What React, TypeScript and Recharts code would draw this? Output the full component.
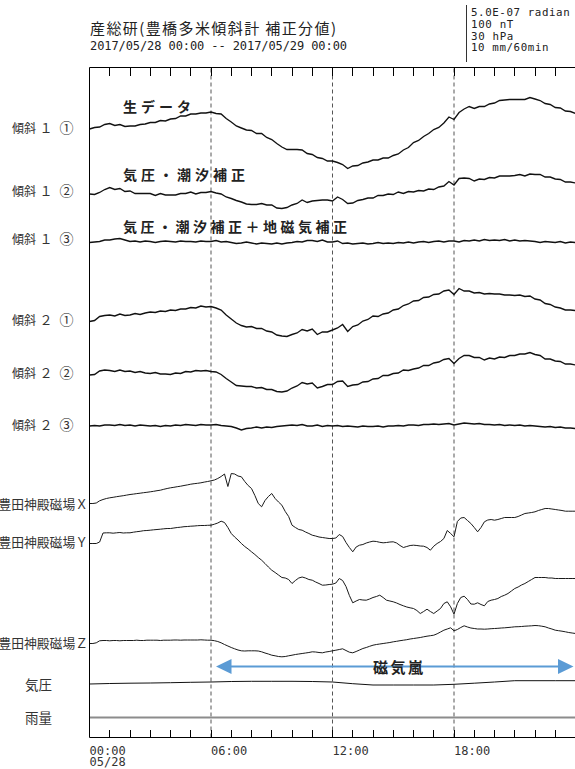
import { LineChart, Line, XAxis, YAxis, ReferenceLine } from "recharts";

// 時刻（時）: 15分値・10分値・毎時値
const quarterHours = Array.from({ length: 97 }, (_, i) => i / 4);
const tenMinHours = Array.from({ length: 145 }, (_, i) => i / 6);
const hourly = Array.from({ length: 25 }, (_, i) => i);

// 傾斜計 (15分値, 表示単位)
const tilt1Raw = [
  0, 1.5, 2, 4.5, 5.5, 3.5, 4.5, 2.5, 3, 3, 4.5, 5, 6.5, 6.5, 8.5, 8,
  10, 10.5, 13, 13, 15, 15, 16, 16, 17, 15.5, 15, 10.5, 7, 3, 1, -1,
  -1.5, -4.5, -4.5, -8.5, -10.5, -14.5, -18, -20.5, -20.5, -20.5, -21, -24.5,
  -25.5, -28.5, -29.5, -32, -32, -33.5, -35.5, -39.5, -37, -36.5, -34, -33,
  -31, -31, -29, -29, -26.5, -25, -21, -18.5, -13.5, -11.5, -7.5, -4.5,
  -0.5, 1.5, 6, 12, 9.5, 16.5, 20, 22.5, 20.5, 22.5, 22.5, 25,
  26, 28.5, 29, 29.5, 29.5, 29.5, 29.5, 31.5, 30, 28.5, 25.5, 24.5,
  21.5, 21, 18, 17.5, 15.5,
];
const tilt1Corr = [
  0, -0.5, 1.5, 4.5, 6.5, 4.5, 5.5, 2.5, 3, 0.5, 0.5, 0.5, 0.5, -1.5, 0.5, -1,
  -1, -1, 0.5, 0.5, 2, 0, 1.5, 1.5, 2.5, 1, 0, -3, -4.5, -6.5, -8, -10,
  -10.5, -10.5, -9.5, -11, -11, -14, -14.5, -13.5, -11, -9.5, -6, -8.5,
  -7, -6.5, -6, -6, -7, -3, -5.5, -9.5, -9, -6.5, -5.5, -4,
  -4, -1.5, -1.5, 0, -0.5, 2, 0.5, 2.5, 2, 3.5, 3, 5,
  4.5, 7, 8, 12.5, 9, 15.5, 16, 15.5, 13, 15, 14.5, 16.5,
  16, 18, 18, 18, 18.5, 19.5, 18, 20, 19.5, 19.5, 17, 17,
  15, 14.5, 12, 12, 11,
];
const tilt1Full = [
  0, 0.5, 1, 2.5, 2.5, 3.5, 4, 2.5, 1, 1.5, 0.5, 1.5, 1, 0, 1, 1.5,
  1, 0.5, 1.5, 1, 1, 0.5, 1.5, 1, 1, 2, 0.5, 1, 0, -1, -0.5, 0.5,
  -0.5, -1.5, -0.5, -1, -1.5, -0.5, -1.5, -0.5, 0, 1, 0.5, 2, 2, 1, 2.5, 0.5,
  0.5, 1.5, -1, -0.5, -1.5, -1, -0.5, -1.5, -1, 0, -1, -0.5, -1, 0, -0.5, 0.5,
  -0.5, 0.5, 1, 0, 1, 1.5, 0.5, 1.5, 1.5, 0.5, 2, 1.5, 2.5, 1.5, 3, 2,
  2.5, 2, 3, 1.5, 2.5, 1.5, 2, 1.5, 1, 0, 1, 0.5, 0, 1, -0.5, 0.5, 0,
];
const tilt2Raw = [
  0, 1, 5, 6, 6.5, 5.5, 7.5, 6, 6.5, 8, 7, 8.5, 9.5, 9, 10.5, 10,
  11.5, 11, 12.5, 12.5, 14, 13.5, 15.5, 14.5, 15, 13.5, 11.5, 6.5, 2.5, -1.5, -4, -5.5,
  -5, -7, -7, -9.5, -10.5, -13.5, -14.5, -15, -13, -11.5, -8, -9.5,
  -7.5, -13, -10.5, -10.5, -8.5, -6.5, -3, -10, -5, -3.5, 0.5, 2,
  5.5, 5, 7.5, 8.5, 11.5, 12.5, 16, 17.5, 20.5, 21, 24, 24.5,
  27, 27.5, 30.5, 31.5, 27, 33, 30.5, 30.5, 28.5, 29, 27.5, 28,
  27.5, 27.5, 26.5, 26.5, 26, 26.5, 25, 25.5, 22.5, 21.5, 18, 17,
  14.5, 13.5, 11.5, 11.5, 11,
];
const tilt2Corr = [
  0, 0.5, 4, 5, 4.5, 3.5, 5, 3.5, 4, 2.5, 3.5, 2, 1.5, 2.5, 1, 1,
  0.5, 2, 1.5, 3.5, 3, 4.5, 4, 4.5, 3.5, 3, 0.5, -3.5, -7, -10.5, -11, -11.5,
  -11.5, -13, -12.5, -14.5, -14.5, -16.5, -17, -16, -13, -11, -7.5, -9,
  -8, -13, -11.5, -9.5, -9.5, -6.5, -6, -11.5, -10, -9.5, -7, -6.5,
  -4, -3.5, -0.5, -0.5, 1.5, 2, 5, 4.5, 6, 7, 9.5, 9.5,
  12, 13, 15.5, 16.5, 11.5, 16.5, 19.5, 19.5, 17.5, 17.5, 15, 17,
  16, 18, 17.5, 19.5, 19.5, 21, 21, 22.5, 20.5, 19.5, 16, 16,
  14, 13.5, 11, 11, 10,
];
const tilt2Full = [
  0, 0.5, 0, 1, 1, 0.5, 1.5, 0.5, 1, 0, 1, 0.5, 0, 0.5, -0.5, 0.5,
  0, 1, 0.5, 1.5, 1, 0.5, 1.5, 1, 1, 1.5, 0.5, 0, -0.5, -2, -4, -2.5,
  -2, -1, -2, -1, -1.5, -0.5, 0, 0.5, 1, 0.5, 1.5, 0, 0, 1, -0.5, 0.5,
  0, 0.5, -0.5, 0, -0.5, -1, 0, -0.5, -0.5, 0, -1, 0, 0, 0.5, 0, 1,
  1, 0.5, 1.5, 1.5, 2, 1.5, 2, 2.5, 1, 2, 3, 2.5, 2, 2.5, 1.5, 1.5,
  1, 1.5, 0.5, 1, 0.5, 1, 0, 0.5, 0, -0.5, -1, -0.5, -1.5, -1, -2, -2, -2.5,
];

// 豊田神殿磁場 (10分値, 表示単位)
const magX = [
  0, 0, 0.5, 2.7, 4, 5, 5.7, 6.2, 6.8, 7.3, 7.8, 8.4,
  9, 9.4, 9.9, 10.3, 10.8, 11.2, 11.7, 12.2, 12.8, 13.3, 14.2, 15,
  15.7, 16.2, 16.8, 17.3, 18, 18.6, 19.3, 19.8, 20.2, 20.7, 21.4, 22,
  22.7, 23.5, 25, 27, 29.5, 17, 30, 29.5, 27.5, 26.7, 22, 18,
  15, 8, 0, -3.3, 3, 7, 10, 5, 1.5, -1.7, -8, -13,
  -21.7, -24, -26, -26.7, -28.5, -30, -31.7, -32.5, -33.5, -34, -34.5, -35,
  -35, -34.5, -31, -33, -39, -44, -48.3, -43.5, -41.7, -41, -39.5, -38.5,
  -37.7, -38, -38.8, -39.3, -39, -38.5, -38.3, -39.5, -42, -44, -43, -42,
  -41.7, -42, -42.5, -42.7, -44, -46.7, -42.7, -40, -38, -35, -27, -30,
  -33.3, -18, -14.5, -14, -17, -20, -24, -28.3, -24, -18.3, -16.5, -16,
  -16.7, -16, -15, -14, -14, -14, -14, -13, -11.5, -10, -9.5, -9,
  -8.3, -7, -6, -5, -5, -5.5, -6, -6.5, -7, -7.7, -7.7, -7.7, -7.7,
];
const magY = [
  0, 0, 0, 1.5, 10.5, 10.7, 10.7, 10.3, 10.7, 11, 10.5, 10.7,
  10.7, 11.3, 11.8, 12.2, 12.8, 13, 13.3, 13.7, 14, 14.3, 14.7, 15,
  15, 15.5, 16, 16.3, 16.8, 17, 17.3, 17.5, 17.8, 18, 18, 18.2,
  18.3, 19.3, 20.5, 22.3, 21, 16, 10, 6.5, 3.5, 0, -3, -5.5,
  -8.3, -11, -14, -16.7, -20, -23.5, -26.7, -29, -31.5, -34, -34.5, -36,
  -40, -37, -34.5, -33.5, -34.5, -36, -36.7, -38.5, -40, -41.7, -41.5, -41,
  -40.7, -39.5, -35, -37, -43, -52, -59.3, -57.5, -56, -56.5, -56.7, -55.5,
  -54, -53, -51.7, -54, -56.7, -57.5, -58.3, -59.5, -61, -62.3, -63.5, -64.3,
  -65, -67, -70, -68, -65.7, -68, -70, -67.5, -65, -60, -58.3, -63.3,
  -70.7, -60, -54, -52.7, -56, -60.5, -60.7, -59.3, -61, -62.3, -58, -56.7,
  -56, -55, -53, -51.7, -50, -47.5, -45, -43.5, -41.5, -40, -38, -36,
  -34, -34, -34, -34, -34.5, -34.5, -35, -35, -35, -35, -35, -35, -35,
];
const magZ = [
  0, 0, 0.7, 2.7, 3, 3, 2.7, 3, 3, 2.7, 3, 3,
  3, 3, 3.3, 3, 3, 3.3, 3.3, 3.3, 3.3, 3, 3.3, 3.3,
  3.3, 3.5, 3.5, 3.3, 3.5, 3.5, 3.5, 3.5, 3.5, 3.7, 3.5, 3.3,
  3.3, 2.8, 2, 0.7, -1, -2.5, -4, -5.3, -6.5, -7.3, -7.5, -7.3,
  -7.3, -7.3, -7.5, -8.3, -9.5, -10.5, -11.7, -12.3, -13, -13.3, -13, -12.3,
  -11.7, -11, -10.5, -10, -9.5, -9, -8.3, -8.5, -9, -9.3, -8.5, -8,
  -7.3, -6.7, -6, -5.3, -7, -8.7, -9.3, -8, -6.5, -5, -4, -2.8,
  -1.7, -1, -0.5, 0, 0.5, 1, 1.7, 2.2, 2.8, 3.3, 3.8, 4.5,
  5, 5.5, 6, 6.7, 7.3, 7.8, 8.3, 9.7, 11.5, 13.3, 14.5, 15.7,
  12.7, 14, 16, 17.7, 16.5, 15.5, 15, 14.5, 14.5, 14.3, 14.5, 14.8,
  15, 15.2, 15.5, 15.7, 16, 16.3, 16.7, 16.8, 17, 17.3, 17.5, 17.7,
  18, 17.8, 17.3, 16.7, 15.5, 14.5, 13.3, 12.8, 12.3, 11.7, 11, 10.5, 10,
];

// 気圧・雨量 (毎時値)
const pressure = [
  0, 0.5, 0.8, 1, 1.3, 1.7, 2, 2.5, 2.7, 2.7, 2.7, 2.5, 2,
  0.3, -1, -1, -1, -1, -0.3, 0.8, 2, 3.3, 3.3, 3.3, 3.3,
];
const rain = [0, 0, 0, 0, 0, 0, 0, 0, 0, 0, 0, 0, 0, 0, 0, 0, 0, 0, 0, 0, 0, 0, 0, 0, 0];

const axisTicks = Array.from({ length: 25 }, (_, i) => i);
const minorTicks = axisTicks.filter((h) => h > 0 && h < 24);
const scaleNotes = ["5.0E-07 radian", "100 nT", "30 hPa", "10 mm/60min"];

// レイアウト
const PLOT_TOP = 67.5;
const PLOT_BOTTOM = 737.5;
const PLOT_LEFT = 89.5;
const HOUR_W = 20.25;
const PLOT_H = PLOT_BOTTOM - PLOT_TOP;
const TICK = 8;

const rows = [
  { id: "t1a", values: tilt1Raw, times: quarterHours, rowY: 129, stroke: "#111", w: 1.35 },
  { id: "t1b", values: tilt1Corr, times: quarterHours, rowY: 194, stroke: "#111", w: 1.35 },
  { id: "t1c", values: tilt1Full, times: quarterHours, rowY: 242.5, stroke: "#111", w: 1.35 },
  { id: "t2a", values: tilt2Raw, times: quarterHours, rowY: 321.5, stroke: "#111", w: 1.35 },
  { id: "t2b", values: tilt2Corr, times: quarterHours, rowY: 375, stroke: "#111", w: 1.35 },
  { id: "t2c", values: tilt2Full, times: quarterHours, rowY: 426, stroke: "#111", w: 1.35 },
  { id: "mx", values: magX, times: tenMinHours, rowY: 503.5, stroke: "#1a1a1a", w: 1 },
  { id: "my", values: magY, times: tenMinHours, rowY: 543.5, stroke: "#1a1a1a", w: 1 },
  { id: "mz", values: magZ, times: tenMinHours, rowY: 643.5, stroke: "#1a1a1a", w: 1 },
  { id: "pr", values: pressure, times: hourly, rowY: 684, stroke: "#111", w: 1 },
  { id: "rn", values: rain, times: hourly, rowY: 717.5, stroke: "#8c8c8c", w: 2 },
];

const series = rows.map((r) => ({
  ...r,
  data: r.values.map((v, i) => ({ t: r.times[i], v: PLOT_BOTTOM - r.rowY + v })),
}));

const MONO = "'DejaVu Sans Mono', 'Liberation Mono', monospace";
const JP = "'Noto Sans CJK JP', 'Noto Sans', sans-serif";

const BottomLabel = (props: any) => {
  const { x, payload } = props;
  const h = payload.value as number;
  if (h % 6 !== 0 || h >= 24) return <g />;
  return (
    <g>
      <text x={x} y={PLOT_BOTTOM + 17} fontFamily={MONO} fontSize={12} fill="#333">
        {`${String(h).padStart(2, "0")}:00`}
      </text>
      {h === 0 && (
        <text x={x} y={PLOT_BOTTOM + 28} fontFamily={MONO} fontSize={12} fill="#333">
          05/28
        </text>
      )}
    </g>
  );
};

const tiltLabels = [
  { n: "１", c: "①", y: 127 },
  { n: "１", c: "②", y: 190 },
  { n: "１", c: "③", y: 238 },
  { n: "２", c: "①", y: 319 },
  { n: "２", c: "②", y: 372 },
  { n: "２", c: "③", y: 424 },
];
const magLabels = [
  { text: "豊田神殿磁場Ｘ", y: 503 },
  { text: "豊田神殿磁場Ｙ", y: 541.5 },
  { text: "豊田神殿磁場Ｚ", y: 642.5 },
];
const notes = [
  { text: "生データ", y: 106, len: 68 },
  { text: "気圧・潮汐補正", y: 173.5, len: 122 },
  { text: "気圧・潮汐補正＋地磁気補正", y: 225.5, len: 224 },
];

export default function App() {
  const blue = "#5b9bd5";
  return (
    <div style={{ position: "absolute", left: 0, top: 0, width: 575, height: 769, overflow: "hidden", background: "#fff" }}>
      <LineChart width={600} height={769} margin={{ top: PLOT_TOP - 1, right: 600 - PLOT_LEFT - 24 * HOUR_W, bottom: 769 - PLOT_BOTTOM - 1, left: PLOT_LEFT - 1 }}>
        <XAxis
          dataKey="t"
          type="number"
          domain={[0, 24]}
          allowDataOverflow
          ticks={axisTicks}
          interval={0}
          height={1}
          tickSize={0}
          tickMargin={0}
          tickLine={false}
          axisLine={{ stroke: "#000" }}
          tick={<BottomLabel />}
        />
        <XAxis
          xAxisId="top"
          orientation="top"
          dataKey="t"
          type="number"
          domain={[0, 24]}
          allowDataOverflow
          height={1}
          tick={false}
          tickLine={false}
          axisLine={{ stroke: "#000" }}
        />
        <YAxis type="number" domain={[0, PLOT_H]} allowDataOverflow width={1} tick={false} tickLine={false} axisLine={{ stroke: "#000" }} />
        {[6, 12, 18].map((h) => (
          <ReferenceLine key={h} x={h} stroke="#555" strokeDasharray="4 3" />
        ))}
        {series.map((s) => (
          <Line
            key={s.id}
            data={s.data}
            dataKey="v"
            type="linear"
            stroke={s.stroke}
            strokeWidth={s.w}
            dot={false}
            activeDot={false}
            isAnimationActive={false}
          />
        ))}
      </LineChart>

      <svg width={575} height={769} style={{ position: "absolute", left: 0, top: 0, pointerEvents: "none" }}>
        {/* 枠内側の毎時目盛り（画素境界に合わせる） */}
        {minorTicks.map((h) => {
          const x = Math.round(PLOT_LEFT + h * HOUR_W - 0.5) + 0.5;
          return (
            <g key={h} stroke="#000" strokeWidth={1} shapeRendering="crispEdges">
              <line x1={x} x2={x} y1={PLOT_TOP} y2={PLOT_TOP + TICK} />
              <line x1={x} x2={x} y1={PLOT_BOTTOM} y2={PLOT_BOTTOM - TICK} />
            </g>
          );
        })}

        <text x={90} y={27} dominantBaseline="central" fontFamily={JP} fontSize={15} fill="#222" textLength={246} lengthAdjust="spacing">
          産総研(豊橋多米傾斜計 補正分値)
        </text>
        <text x={90} y={45.5} dominantBaseline="central" fontFamily={MONO} fontSize={12} fill="#222" textLength={257} lengthAdjust="spacing">
          2017/05/28 00:00 -- 2017/05/29 00:00
        </text>
        <line x1={466.5} x2={466.5} y1={5} y2={62} stroke="#333" />
        {scaleNotes.map((t, i) => (
          <text key={t} x={471} y={12.5 + i * 11.8} dominantBaseline="central" fontFamily={MONO} fontSize={10.8} fill="#222" textLength={t.length * 7.05} lengthAdjust="spacing">
            {t}
          </text>
        ))}

        {tiltLabels.map((l, i) => (
          <g key={i} fill="#333" fontFamily={JP}>
            <text x={12} y={l.y} dominantBaseline="central" fontSize={12}>傾斜</text>
            <text x={46} y={l.y} dominantBaseline="central" fontSize={13} textAnchor="middle">{l.n}</text>
            <text x={66.5} y={l.y} dominantBaseline="central" fontSize={14} textAnchor="middle">{l.c}</text>
          </g>
        ))}
        {magLabels.map((l) => (
          <text key={l.text} x={88} y={l.y} dominantBaseline="central" textAnchor="end" fontFamily={JP} fontSize={12.8} fill="#333">
            {l.text}
          </text>
        ))}
        <text x={25} y={683.5} dominantBaseline="central" fontFamily={JP} fontSize={13.5} fill="#333">気圧</text>
        <text x={25} y={717} dominantBaseline="central" fontFamily={JP} fontSize={13.5} fill="#333">雨量</text>

        {notes.map((n) => (
          <text key={n.text} x={123} y={n.y} dominantBaseline="central" fontFamily={JP} fontSize={14} fontWeight="bold" fill="#222" textLength={n.len} lengthAdjust="spacing">
            {n.text}
          </text>
        ))}

        <line x1={228} x2={560} y1={666.5} y2={666.5} stroke={blue} strokeWidth={2} />
        <polygon points="216,666.5 231.5,659 231.5,674" fill={blue} />
        <polygon points="573.5,666.5 558,659 558,674" fill={blue} />
        <text x={373} y={666.5} dominantBaseline="central" fontFamily={JP} fontSize={15} fontWeight="bold" fill="#222" textLength={50} lengthAdjust="spacing">
          磁気嵐
        </text>
      </svg>
    </div>
  );
}
